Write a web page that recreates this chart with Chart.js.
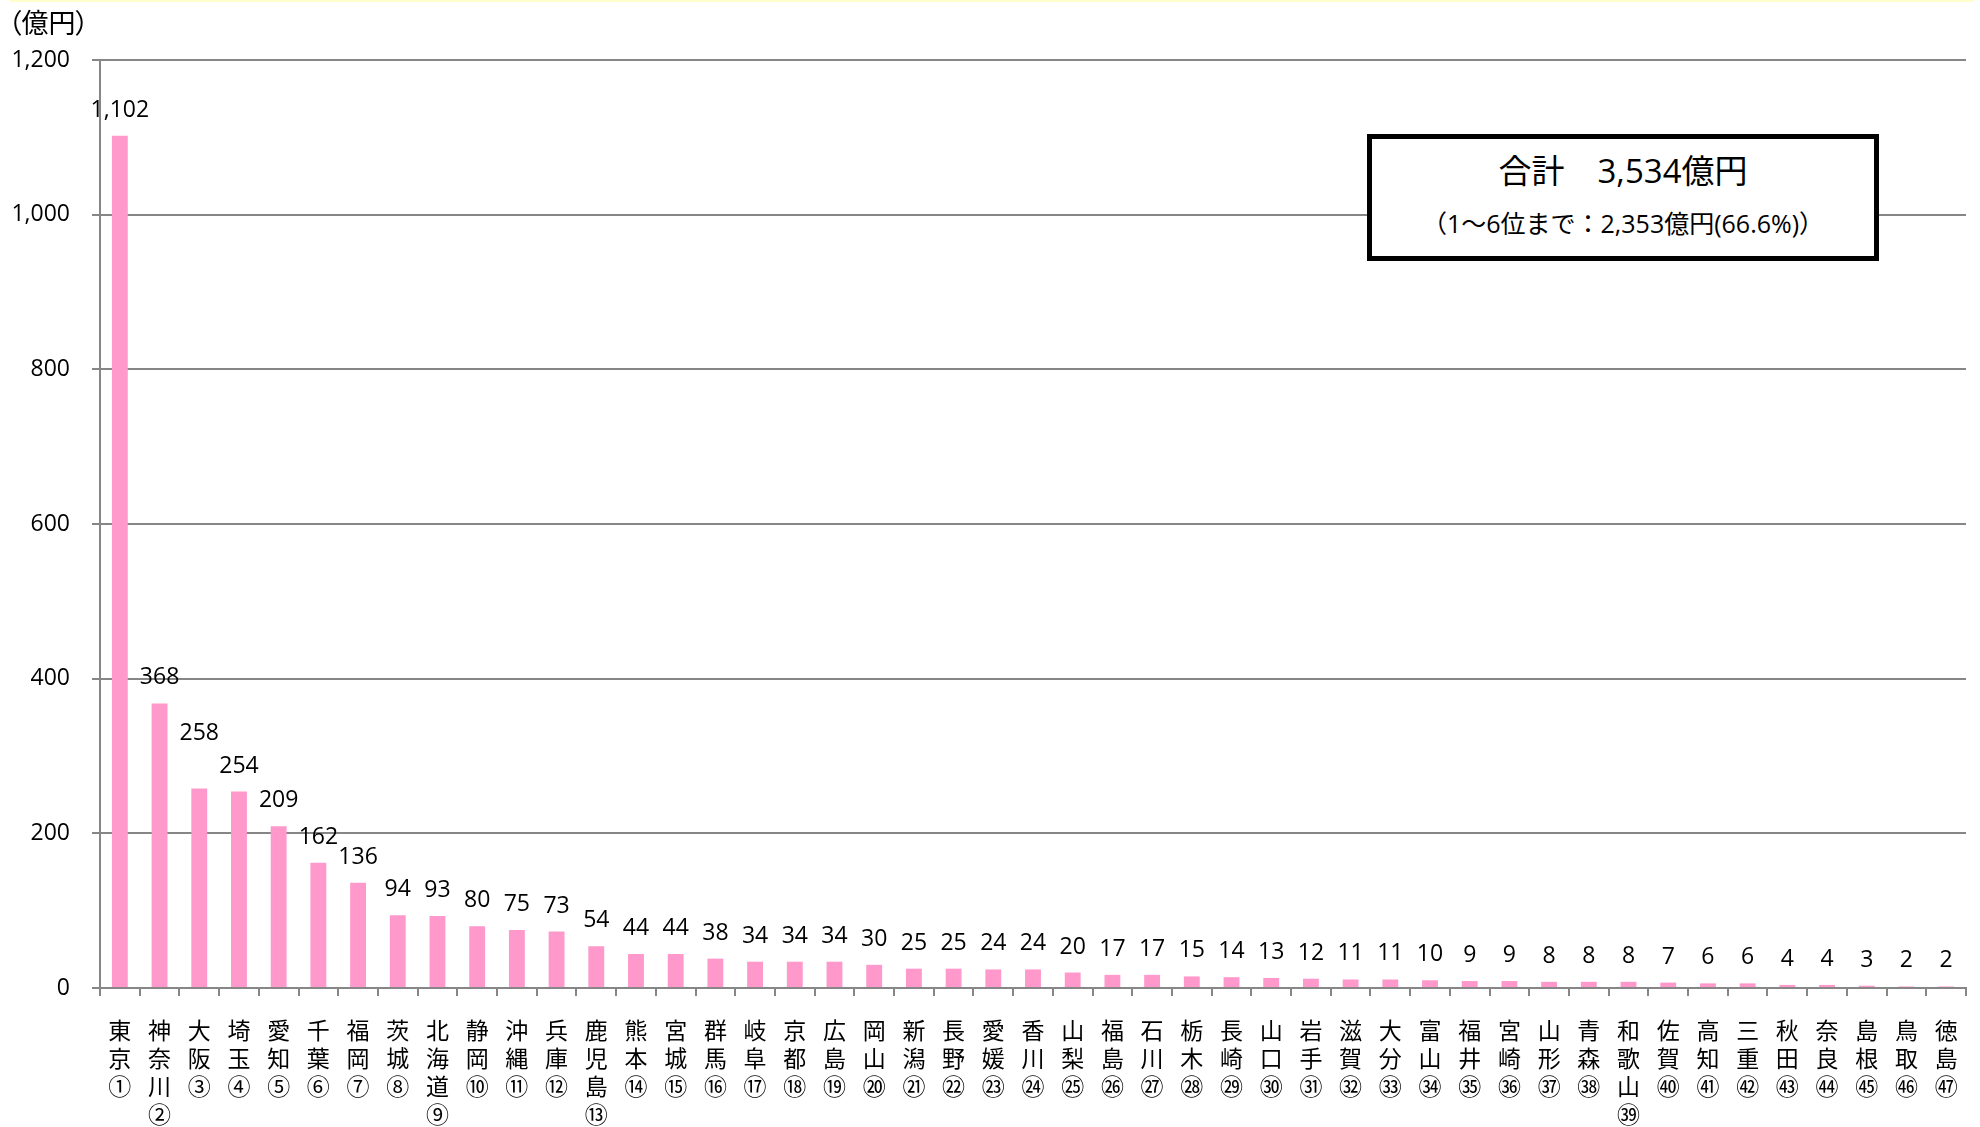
<!DOCTYPE html>
<html lang="ja">
<head>
<meta charset="utf-8">
<script src="https://cdn.jsdelivr.net/npm/chart.js@4/dist/chart.umd.min.js"></script>
<style>
    body { margin: 0; background: #fff; }
    #wrap { position: relative; width: 1980px; height: 1127px; overflow: hidden; }
    #chart { position: absolute; left: 0; top: 0; }
    .topline { position: absolute; left: 10px; right: 6px; top: 0; height: 2px; background: #ffffcc; }
    .unit {
        position: absolute; left: 8px; top: 2px;
        font: 27px 'Noto Sans CJK JP', sans-serif;
        font-feature-settings: 'palt';
        color: #000;
    }
    .total {
        position: absolute; left: 1367px; top: 134px; width: 502px; height: 117px;
        border: 5px solid #000; background: #fff;
        font-family: 'Open Sans', 'Noto Sans CJK JP', sans-serif; color: #000;
        text-align: center;
    }
    .total .t1 { font-size: 33px; line-height: 34px; margin-top: 15px; }
    .total .t2 { font-size: 25px; line-height: 28px; margin-top: 21px; }
</style>
</head>
<body>
<div id="wrap">
    <canvas id="chart" width="1980" height="1127"></canvas>
    <div class="topline"></div>
    <div class="unit">（億円）</div>
    <div class="total">
        <div class="t1">合計　3,534億円</div>
        <div class="t2">（1～6位まで：2,353億円(66.6%)）</div>
    </div>
</div>
<script>
// Prefectures in rank order
const prefNames = ['東京', '神奈川', '大阪', '埼玉', '愛知', '千葉', '福岡', '茨城', '北海道', '静岡',
    '沖縄', '兵庫', '鹿児島', '熊本', '宮城', '群馬', '岐阜', '京都', '広島', '岡山',
    '新潟', '長野', '愛媛', '香川', '山梨', '福島', '石川', '栃木', '長崎', '山口',
    '岩手', '滋賀', '大分', '富山', '福井', '宮崎', '山形', '青森', '和歌山', '佐賀',
    '高知', '三重', '秋田', '奈良', '島根', '鳥取', '徳島'];

const rankMarks = ['①', '②', '③', '④', '⑤', '⑥', '⑦', '⑧', '⑨', '⑩',
    '⑪', '⑫', '⑬', '⑭', '⑮', '⑯', '⑰', '⑱', '⑲', '⑳',
    '㉑', '㉒', '㉓', '㉔', '㉕', '㉖', '㉗', '㉘', '㉙', '㉚',
    '㉛', '㉜', '㉝', '㉞', '㉟', '㊱', '㊲', '㊳', '㊴', '㊵',
    '㊶', '㊷', '㊸', '㊹', '㊺', '㊻', '㊼'];

// Amount (億円)
const amounts = [1102, 368, 258, 254, 209, 162, 136, 94, 93, 80,
    75, 73, 54, 44, 44, 38, 34, 34, 34, 30,
    25, 25, 24, 24, 20, 17, 17, 15, 14, 13,
    12, 11, 11, 10, 9, 9, 8, 8, 8, 7,
    6, 6, 4, 4, 3, 2, 2];

const yTicks = [0, 200, 400, 600, 800, 1000, 1200];

const numFont = "'Open Sans', 'Noto Sans CJK JP', sans-serif";
const gridGray = '#868686';

// Vertical labels: one character per line, then the rank mark
const labels = prefNames.map((name, i) => name.split('').concat([rankMarks[i]]));

// Draw the value above each bar (大阪's label sits higher so it clears 埼玉's)
const valueLabels = {
    id: 'valueLabels',
    afterDatasetsDraw(chart) {
        const ctx = chart.ctx;
        const meta = chart.getDatasetMeta(0);
        ctx.save();
        ctx.font = '23px ' + numFont;
        ctx.fillStyle = '#000';
        ctx.textAlign = 'center';
        ctx.textBaseline = 'alphabetic';
        meta.data.forEach((bar, i) => {
            const lift = i === 2 ? 48 : 19;
            ctx.fillText(amounts[i].toLocaleString('en-US'), bar.x, bar.y - lift);
        });
        ctx.restore();
    }
};

new Chart(document.getElementById('chart'), {
    type: 'bar',
    data: {
        labels: labels,
        datasets: [{
            data: amounts,
            backgroundColor: '#ff99cc',
            borderWidth: 0,
            barPercentage: 0.4,
            categoryPercentage: 1.0
        }]
    },
    options: {
        responsive: false,
        devicePixelRatio: 1,
        animation: false,
        layout: { padding: { top: 60, right: 14, left: 0, bottom: 0 } },
        plugins: {
            legend: { display: false },
            tooltip: { enabled: false }
        },
        scales: {
            x: {
                afterFit: function(scale) { scale.height = 139; },
                grid: {
                    drawOnChartArea: false,
                    drawTicks: true,
                    tickLength: 8,
                    color: gridGray,
                    lineWidth: 2
                },
                border: { color: gridGray, width: 2 },
                ticks: {
                    autoSkip: false,
                    maxRotation: 0,
                    minRotation: 0,
                    padding: 20,
                    color: '#000',
                    font: { family: "'Noto Sans CJK JP', sans-serif", size: 23, lineHeight: 28 / 23 }
                }
            },
            y: {
                min: 0,
                max: 1200,
                afterFit: function(scale) { scale.width = 100; },
                afterBuildTicks: function(scale) {
                    scale.ticks = yTicks.map(v => ({ value: v }));
                },
                grid: {
                    color: gridGray,
                    lineWidth: 2,
                    tickLength: 8
                },
                border: { color: gridGray, width: 2 },
                ticks: {
                    padding: 22,
                    color: '#000',
                    font: { family: numFont, size: 23 },
                    callback: function(value) {
                        return value.toLocaleString('en-US');
                    }
                }
            }
        }
    },
    plugins: [valueLabels]
});
</script>
</body>
</html>
